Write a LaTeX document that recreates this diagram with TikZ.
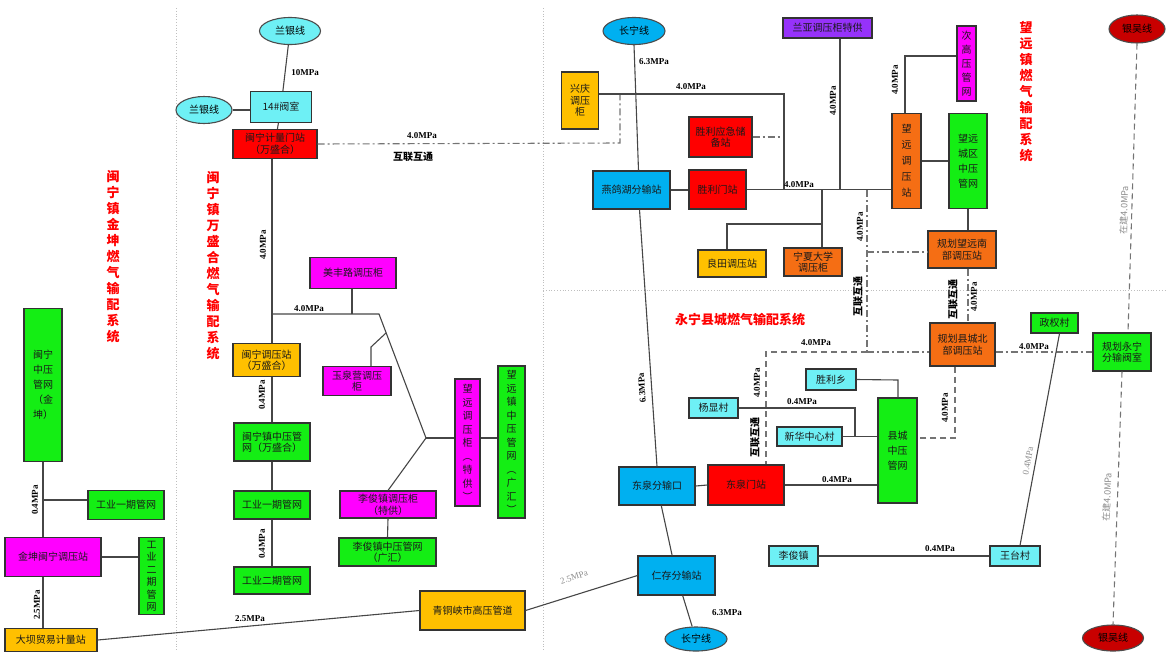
\documentclass[tikz,border=0pt]{standalone}
\usepackage{fontspec}
\setmainfont{Liberation Serif}
\newfontfamily\cjk{Noto Sans CJK SC}
\usetikzlibrary{shapes.geometric}

\definecolor{gasred}{RGB}{255,0,0}
\definecolor{gasgreen}{RGB}{20,238,20}
\definecolor{gasmag}{RGB}{255,0,255}
\definecolor{gasorg}{RGB}{255,192,0}
\definecolor{gasdorg}{RGB}{245,110,20}
\definecolor{gascyan}{RGB}{110,240,245}
\definecolor{gasblue}{RGB}{0,176,240}
\definecolor{gaspur}{RGB}{150,50,250}
\definecolor{gasdred}{RGB}{200,0,0}
\definecolor{pipeline}{RGB}{70,70,70}

\begin{document}
\begin{tikzpicture}[
		x=1pt, y=-1pt,
		line width=1.1pt,
		pipe/.style={draw=pipeline},
		link/.style={draw=pipeline!75, dash pattern=on 7pt off 3pt on 2pt off 3pt},
		plan/.style={draw=pipeline!75, dash pattern=on 6pt off 4pt},
		sep/.style={draw=black!25, line width=0.8pt, dotted},
		sz/.style 2 args={minimum width=#1, minimum height=#2},
		box/.style={rectangle, draw=black!80, inner sep=1pt, align=center, text=black!90, font=\cjk\fontsize{10}{11.5}\selectfont},
		gbox/.style={box, fill=gasgreen},
		rbox/.style={box, fill=gasred},
		mbox/.style={box, fill=gasmag},
		obox/.style={box, fill=gasorg},
		dbox/.style={box, fill=gasdorg},
		cbox/.style={box, fill=gascyan},
		bbox/.style={box, fill=gasblue},
		pbox/.style={box, fill=gaspur},
		oval/.style={ellipse, draw=black!70, inner sep=0pt, font=\cjk\fontsize{10}{11.5}\selectfont},
		lbl/.style={font=\bfseries\fontsize{9}{10}\selectfont},
		vlbl/.style={lbl, rotate=90},
		glbl/.style={font=\fontsize{9}{10}\selectfont, text=black!45},
		hlbl/.style={rotate=90, font=\cjk\bfseries\fontsize{10}{11}\selectfont},
		title/.style={text=gasred, align=center, font=\cjk\bfseries\fontsize{13}{16}\selectfont}
		]
	\useasboundingbox (0,0) rectangle (1166,651);
	
	% Dotted borders of the systems
	\draw[sep] (176,8) -- (176,651);
	\draw[sep] (543,8) -- (543,651);
	\draw[sep] (543,290) -- (1166,290);
	
	% Titles
	\node[title] (t1) at (113,257) {闽\\宁\\镇\\金\\坤\\燃\\气\\输\\配\\系\\统};
	\node[title] (t2) at (213,266) {闽\\宁\\镇\\万\\盛\\合\\燃\\气\\输\\配\\系\\统};
	\node[title] (t3) at (1026,92) {望\\远\\镇\\燃\\气\\输\\配\\系\\统};
	\node[title, font=\cjk\bfseries\fontsize{13}{14}\selectfont] (t4) at (740,320) {永宁县城燃气输配系统};
	
	% Jinkun
	\node[gbox, sz={38}{153}, font=\cjk\fontsize{10}{15}\selectfont] (ljk) at (43,385) {闽宁\\中压\\管网\\（金\\坤）};
	\node[gbox, sz={76}{29}] (lgy1) at (126,505) {工业一期管网};
	\node[mbox, sz={96}{39}] (ljktz) at (53,557) {金坤闽宁调压站};
	\node[gbox, sz={25}{77}, font=\cjk\fontsize{10}{12.5}\selectfont] (lgy2) at (151.5,576) {工\\业\\二\\期\\管\\网};
	\node[obox, sz={92}{23}] (ldb) at (51,640) {大坝贸易计量站};
	
	% Wanshenghe
	\node[oval, fill=gascyan, sz={61}{27}] (lyx1) at (290,31) {兰银线};
	\node[oval, fill=gascyan, sz={56}{27}] (lyx2) at (204,110) {兰银线};
	\node[cbox, sz={61}{31}] (fs14) at (281,107) {14\#阀室};
	\node[rbox, sz={84}{29}] (mnjl) at (275,144) {闽宁计量门站\\（万盛合）};
	\node[mbox, sz={86}{31}] (mftz) at (353,273) {美丰路调压柜};
	\node[mbox, sz={68}{29}] (yqy) at (357,381) {玉泉营调压\\柜};
	\node[obox, sz={67}{33}] (mntz) at (266.5,360) {闽宁调压站\\（万盛合）};
	\node[gbox, sz={76}{38}] (mnzy) at (272,442) {闽宁镇中压管\\网（万盛合）};
	\node[gbox, sz={76}{28}] (mgy1) at (272,505) {工业一期管网};
	\node[gbox, sz={76}{27}] (mgy2) at (272,580.5) {工业二期管网};
	\node[mbox, sz={96}{27}] (ljtz) at (388,504.5) {李俊镇调压柜\\（特供）};
	\node[gbox, sz={97}{28}] (ljzy) at (387.5,552) {李俊镇中压管网\\（广汇）};
	\node[mbox, sz={25}{127}, font=\cjk\fontsize{10}{13.5}\selectfont] (wytg) at (467.5,442.5) {望\\远\\调\\压\\柜\\︵\\特\\供\\︶};
	\node[gbox, sz={27}{152}, font=\cjk\fontsize{10}{13.5}\selectfont] (wyzy) at (511.5,442) {望\\远\\镇\\中\\压\\管\\网\\︵\\广\\汇\\︶};
	\node[obox, sz={105}{39}] (qtx) at (472.5,610.5) {青铜峡市高压管道};
	
	% Wangyuan
	\node[oval, fill=gasblue, sz={62}{27}] (cnx1) at (634,31) {长宁线};
	\node[obox, sz={37}{57}] (xqtz) at (580,100.5) {兴庆\\调压\\柜};
	\node[rbox, sz={63}{40}] (slyj) at (720.5,137) {胜利应急储\\备站};
	\node[bbox, sz={77}{38}] (ygh) at (631.5,190) {燕鸽湖分输站};
	\node[rbox, sz={57}{39}] (slmz) at (717.5,189.5) {胜利门站};
	\node[pbox, sz={89}{20}] (lytz) at (827.5,28) {兰亚调压柜特供};
	\node[obox, sz={68}{27}] (ltz) at (732,263.5) {良田调压站};
	\node[dbox, sz={58}{28}] (nxdx) at (813,262) {宁夏大学\\调压柜};
	\node[dbox, sz={29}{95}, font=\cjk\fontsize{10}{16}\selectfont] (wyz) at (906.5,161) {望\\远\\调\\压\\站};
	\node[mbox, sz={19}{75}, font=\cjk\fontsize{10}{14}\selectfont] (cgy) at (966.5,63.5) {次\\高\\压\\管\\网};
	\node[gbox, sz={38}{95}, font=\cjk\fontsize{10}{15}\selectfont] (wycq) at (968,161) {望远\\城区\\中压\\管网};
	\node[dbox, sz={68}{37}] (ghwy) at (962,249.5) {规划望远南\\部调压站};
	\node[oval, fill=gasdred, sz={56}{28}] (ywx1) at (1137,29) {银吴线};
	
	% Yongning
	\node[dbox, sz={65}{43}] (ghxc) at (962.5,344.5) {规划县城北\\部调压站};
	\node[gbox, sz={58}{38}] (ghyn) at (1122,352) {规划永宁\\分输阀室};
	\node[gbox, sz={47}{20}] (zqc) at (1054.5,323) {政权村};
	\node[cbox, sz={50}{20}] (wtc) at (1015,556) {王台村};
	\node[cbox, sz={49}{20}] (ljz) at (793.5,556) {李俊镇};
	\node[gbox, sz={39}{105}, font=\cjk\fontsize{10}{15}\selectfont] (xczy) at (897.5,450.5) {县城\\中压\\管网};
	\node[cbox, sz={50}{21}] (slx) at (831,379.5) {胜利乡};
	\node[cbox, sz={49}{20}] (yxc) at (713.5,408) {杨显村};
	\node[cbox, sz={65}{19}] (xhzx) at (809.5,436.5) {新华中心村};
	\node[bbox, sz={76}{38}] (dqfs) at (657,486) {东泉分输口};
	\node[rbox, sz={76}{40}] (dqmz) at (746,485) {东泉门站};
	\node[bbox, sz={77}{39}] (rcfs) at (676.5,575.5) {仁存分输站};
	\node[oval, fill=gasblue, sz={62}{24}] (cnx2) at (696,639) {长宁线};
	\node[oval, fill=gasdred, sz={61}{26}] (ywx2) at (1113,638) {银吴线};
	
	% Junctions
	\coordinate (m1) at (272,314);
	\coordinate (m2) at (379,314);
	\coordinate (m3) at (426,438);
	\coordinate (m4) at (352,314);
	\coordinate (m5) at (386,333);
	\coordinate (m6) at (371,347);
	\coordinate (k1) at (43,500);
	\coordinate (q1) at (620,143);
	\coordinate (q2) at (620,94);
	\coordinate (x1) at (784,94);
	\coordinate (x2) at (784,190);
	\coordinate (s1) at (840,190);
	\coordinate (n1) at (822,190);
	\coordinate (n2) at (822,224);
	\coordinate (n3) at (727,224);
	\coordinate (w1) at (905,56);
	\coordinate (h1) at (867,190);
	\coordinate (h2) at (867,252);
	\coordinate (h3) at (867,352);
	\coordinate (h4) at (766,352);
	\coordinate (g1) at (955,438);
	\coordinate (v1) at (898,380);
	\coordinate (y1) at (855,408);
	\coordinate (y2) at (855,436);
	
	% Pipes, Jinkun
	\draw[pipe] (ljk.south) -- (ljk.south |- ljktz.north);
	\draw[pipe] (k1) -- (k1 -| lgy1.west);
	\draw[pipe] (ljktz.east) -- (ljktz.east -| lgy2.west);
	\draw[pipe] (ljk.south |- ljktz.south) -- (ljk.south |- ldb.north);
	\draw[pipe] (ldb.east) -- (qtx.west);
	
	% Pipes, Wanshenghe
	\draw[pipe] (lyx1) -- (fs14);
	\draw[pipe] (lyx2.east) -- (lyx2.east -| fs14.west);
	\draw[pipe] (fs14) -- (mnjl);
	\draw[pipe] (m1 |- mnjl.south) -- (m1) -- (m1 |- mntz.north);
	\draw[pipe] (m1) -- (m2) -- (m3);
	\draw[pipe] (m4) -- (m4 |- mftz.south);
	\draw[pipe] (m5) -- (m6) -- (m6 |- yqy.north);
	\draw[pipe] (m3) -- (ljtz.north);
	\draw[pipe] (m3) -- (m3 -| wytg.west);
	\draw[pipe] (wytg.east |- m3) -- (wyzy.west |- m3);
	\draw[pipe] (ljtz.south) -- (ljzy.north);
	\draw[pipe] (m1 |- mntz.south) -- (m1 |- mnzy.north);
	\draw[pipe] (mnzy) -- (mgy1);
	\draw[pipe] (mgy1) -- (mgy2);
	\draw[link] (mnjl.east) -- (q1) -- (q2);
	
	% Pipes, Wangyuan
	\draw[pipe] (cnx1.south) -- ([xshift=7]ygh.north);
	\draw[pipe] ([xshift=8]ygh.south) -- (dqfs.north);
	\draw[pipe] (ygh.east) -- (ygh.east -| slmz.west);
	\draw[pipe] (slmz.east) -- (slmz.east -| wyz.west);
	\draw[pipe] (q2 -| xqtz.east) -- (x1) -- (x2);
	\draw[link] (slyj.east) -- ([xshift=-4]slyj.east -| x1);
	\draw[pipe] (s1 |- lytz.south) -- (s1);
	\draw[pipe] (n1) -- (n1 |- nxdx.north);
	\draw[pipe] (n2) -- (n3) -- (n3 |- ltz.north);
	\draw[pipe] (w1 |- wyz.north) -- (w1) -- (w1 -| cgy.west);
	\draw[pipe] (wyz.east) -- (wyz.east -| wycq.west);
	\draw[pipe] (wycq.south) -- (wycq.south |- ghwy.north);
	\draw[link] (wycq.south |- ghwy.south) -- (wycq.south |- ghxc.north);
	\draw[link] (h1) -- (h3);
	\draw[link] (h2) -- (h2 -| ghwy.west);
	\draw[link] (h3) -- (h3 -| ghxc.west);
	\draw[plan] (h3) -- (h4) -- (h4 |- dqmz.north);
	
	% Pipes, Yongning
	\draw[link] (ghyn.west -| ghxc.east) -- (ghyn.west);
	\draw[plan] (g1 |- ghxc.south) -- (g1) -- (g1 -| xczy.east);
	\draw[plan] (ywx1.south) -- ([xshift=6]ghyn.north);
	\draw[plan] (ghyn.south) -- (ywx2.north);
	\draw[pipe] ([xshift=5]zqc.south) -- ([xshift=5]wtc.north);
	\draw[pipe] (ljz.east) -- (wtc.west);
	\draw[pipe] (slx.east) -- (v1) -- (v1 |- xczy.north);
	\draw[pipe] (yxc.east) -- (y1) -- (y2);
	\draw[pipe] (xhzx.east) -- (xhzx.east -| xczy.west);
	\draw[pipe] (dqmz.east) -- (dqmz.east -| xczy.west);
	\draw[pipe] (dqfs.east) -- (dqmz.west);
	\draw[pipe] (dqfs) -- (rcfs);
	\draw[pipe] (rcfs) -- (cnx2);
	\draw[pipe] (qtx.east) -- (rcfs.west);
	
	% Pressure labels
	\foreach \x/\y/\t [count=\i] in {305/73/10MPa, 309/309/4.0MPa, 250/619/2.5MPa, 422/136/4.0MPa,
		727/613/6.3MPa, 654/62/6.3MPa, 691/87/4.0MPa, 799/185/4.0MPa, 816/343/4.0MPa,
		1034/347/4.0MPa, 837/480/0.4MPa, 802/402/0.4MPa, 940/549/0.4MPa}{
		\node[lbl] (p\i) at (\x,\y) {\t};
	}
	\foreach \x/\y/\t [count=\i] in {263/245/4.0MPa, 262/395/0.4MPa, 262/544/0.4MPa, 35/500/0.4MPa,
		37/605/2.5MPa, 833/101/4.0MPa, 860/227/4.0MPa, 757/383/4.0MPa, 895/80/4.0MPa,
		974/297/4.0MPa, 945/408/4.0MPa}{
		\node[vlbl] (r\i) at (\x,\y) {\t};
	}
	\node[lbl, rotate=94] (r12) at (642,388) {6.3MPa};
	
	% Interconnection labels
	\node[font=\cjk\bfseries\fontsize{10}{11}\selectfont] (c1) at (413,157) {互联互通};
	\foreach \x/\y [count=\i] in {858/296, 755/437, 953/299}{
		\node[hlbl] (c\i x) at (\x,\y) {互联互通};
	}
	
	% Grey labels
	\node[glbl, rotate=18] (e1) at (574,577) {2.5MPa};
	\node[glbl, rotate=80] (e2) at (1028,461) {0.4MPa};
	\node[glbl, rotate=88, font=\cjk\fontsize{9}{10}\selectfont] (e3) at (1124,210) {在建4.0MPa};
	\node[glbl, rotate=87, font=\cjk\fontsize{9}{10}\selectfont] (e4) at (1107,497) {在建4.0MPa};
	
\end{tikzpicture}
\end{document}
